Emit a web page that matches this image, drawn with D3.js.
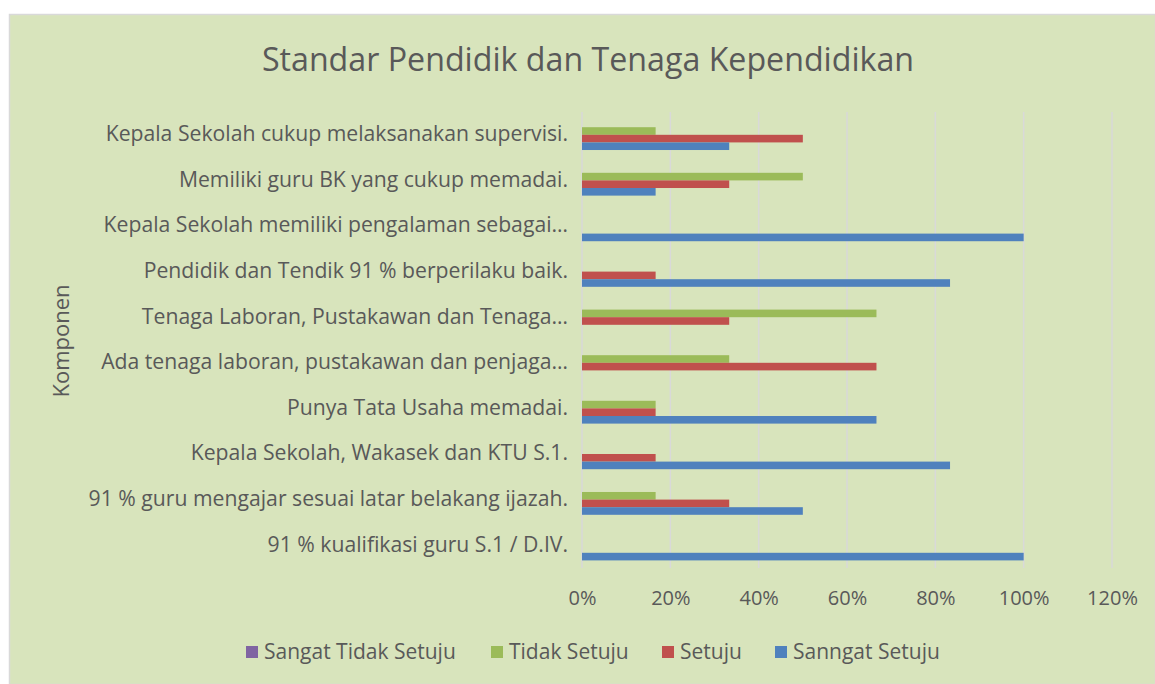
<!DOCTYPE html>
<html>
<head>
<meta charset="utf-8">
<script src="https://cdn.jsdelivr.net/npm/d3@7"></script>
<style>
  body { margin: 0; background: #ffffff; }
  text { font-family: "Open Sans", Lato, sans-serif; fill: #595959; }
</style>
</head>
<body>
<div id="chart"></div>
<script>
// Kategori (dari atas ke bawah)
var categories = [
  "Kepala Sekolah cukup melaksanakan supervisi.",
  "Memiliki guru BK yang cukup memadai.",
  "Kepala Sekolah memiliki pengalaman sebagai…",
  "Pendidik dan Tendik 91 % berperilaku baik.",
  "Tenaga Laboran, Pustakawan dan Tenaga…",
  "Ada tenaga laboran, pustakawan dan penjaga…",
  "Punya Tata Usaha memadai.",
  "Kepala Sekolah, Wakasek dan KTU S.1.",
  "91 % guru mengajar sesuai latar belakang ijazah.",
  "91 % kualifikasi guru S.1 / D.IV."
];

var seriesNames = ["Sangat Tidak Setuju", "Tidak Setuju", "Setuju", "Sanngat Setuju"];
var seriesColors = ["#8064a2", "#9bbb59", "#c0504d", "#4f81bd"];

// Nilai tiap seri (urutan sama dengan categories)
var sangatTidakSetuju = [0, 0, 0, 0, 0, 0, 0, 0, 0, 0];
var tidakSetuju      = [0.1667, 0.5, 0, 0, 0.6667, 0.3333, 0.1667, 0, 0.1667, 0];
var setuju           = [0.5, 0.3333, 0, 0.1667, 0.3333, 0.6667, 0.1667, 0.1667, 0.3333, 0];
var sanngatSetuju    = [0.3333, 0.1667, 1, 0.8333, 0, 0, 0.6667, 0.8333, 0.5, 1];

var xTicks = [0, 0.2, 0.4, 0.6, 0.8, 1.0, 1.2];

var seriesValues = [sangatTidakSetuju, tidakSetuju, setuju, sanngatSetuju];

var width = 1155, height = 684;
var plot = { left: 582, right: 1112, top: 112, bottom: 568 };

var svg = d3.select("#chart")
  .append("svg")
  .attr("width", width)
  .attr("height", height);

// Tło wykresu
svg.append("rect")
  .attr("x", 9.5).attr("y", 14.5)
  .attr("width", width - 9).attr("height", height - 14)
  .attr("fill", "#d8e4bc")
  .attr("stroke", "#d9d9d9")
  .attr("stroke-width", 1.5);

var x = d3.scaleLinear().domain([0, 1.2]).range([plot.left, plot.right]);

var y = d3.scaleBand()
  .domain(categories)
  .range([plot.top, plot.bottom])
  .paddingInner(0.333)
  .paddingOuter(0.1667);

var ySub = d3.scaleBand()
  .domain(seriesNames)
  .range([0, y.bandwidth()]);

// Linie siatki
svg.append("g")
  .selectAll("line")
  .data(xTicks)
  .enter()
  .append("line")
  .attr("x1", function (d) { return x(d); })
  .attr("x2", function (d) { return x(d); })
  .attr("y1", plot.top)
  .attr("y2", plot.bottom)
  .style("stroke", "#d9d9d9")
  .style("stroke-width", 1.5);

// Słupki
seriesNames.forEach(function (name, si) {
  svg.append("g")
    .selectAll("rect")
    .data(categories)
    .enter()
    .append("rect")
    .attr("x", x(0))
    .attr("y", function (c) { return y(c) + ySub(name); })
    .attr("width", function (c, i) { return x(seriesValues[si][i]) - x(0); })
    .attr("height", ySub.bandwidth())
    .style("fill", seriesColors[si]);
});

// Oś X
var xAxis = d3.axisBottom(x)
  .tickValues(xTicks)
  .tickFormat(d3.format(".0%"))
  .tickSize(0)
  .tickPadding(23);

var gx = svg.append("g")
  .attr("transform", "translate(0," + plot.bottom + ")")
  .call(xAxis);
gx.select(".domain").remove();
gx.selectAll("text").style("font-size", "20px").attr("fill", "#595959");

// Oś Y
var yAxis = d3.axisLeft(y).tickSize(0).tickPadding(14);
var gy = svg.append("g")
  .attr("transform", "translate(" + plot.left + ",0)")
  .call(yAxis);
gy.select(".domain").remove();
gy.selectAll("text").style("font-size", "21.2px").attr("fill", "#595959").attr("dy", "0.3em");

// Tytuł
svg.append("text")
  .attr("x", 588)
  .attr("y", 71)
  .attr("text-anchor", "middle")
  .style("font-size", "32.2px")
  .text("Standar Pendidik dan Tenaga Kependidikan");

// Tytuł osi Y
svg.append("text")
  .attr("transform", "translate(69,341) rotate(-90)")
  .attr("text-anchor", "middle")
  .style("font-size", "22px")
  .text("Komponen");

// Legenda
var legendX = [246, 491, 662, 775];
var legend = svg.append("g");
seriesNames.forEach(function (name, i) {
  legend.append("rect")
    .attr("x", legendX[i])
    .attr("y", 646)
    .attr("width", 12)
    .attr("height", 12)
    .style("fill", seriesColors[i]);
  legend.append("text")
    .attr("x", legendX[i] + 18)
    .attr("y", 659)
    .style("font-size", "21px")
    .text(name);
});
</script>
</body>
</html>
